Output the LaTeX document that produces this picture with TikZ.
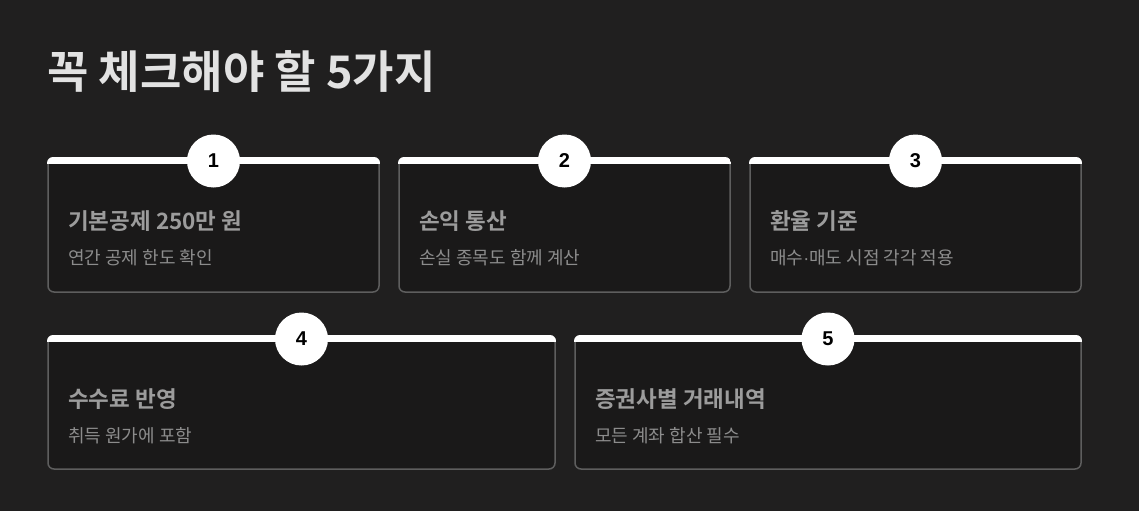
\documentclass[tikz,border=0pt]{standalone}
\usepackage{fontspec}
\setmainfont{Noto Sans CJK KR}[BoldFont={* Bold}]
\newfontfamily\numfont{Liberation Sans}
\definecolor{bg}{HTML}{201F1F}
\definecolor{cardfill}{HTML}{1A1919}
\definecolor{cardline}{HTML}{5E5E5E}
\definecolor{titlecol}{HTML}{E2E2E2}
\definecolor{headcol}{HTML}{9C9C9C}
\definecolor{subcol}{HTML}{8C8C8C}
\tikzset{
  card/.style={draw=cardline, line width=1.5pt, fill=cardfill, rounded corners=6pt},
  numcirc/.style={circle, fill=white, minimum size=53pt, inner sep=0pt, font=\fontsize{20}{22}\numfont\bfseries, text=black},
  head/.style={anchor=west, text=headcol, font=\fontsize{22.5}{26}\selectfont\bfseries, inner sep=0pt},
  sub/.style={anchor=west, text=subcol, font=\fontsize{18}{21}\selectfont, inner sep=0pt},
}
\begin{document}
\begin{tikzpicture}[x=1pt,y=-1pt]
\fill[bg] (0,0) rectangle (1139,511);
\useasboundingbox (0,0) rectangle (1139,511);
\node[anchor=base west, inner sep=0pt, text=titlecol, font=\fontsize{45}{52}\selectfont\bfseries] (title) at (47,88) {꼭 체크해야 할 5가지};
\foreach \i/\xa/\xb/\ya/\yb/\hd/\sb in {
  1/48/379/158/292/기본공제 250만 원/연간 공제 한도 확인,
  2/399/730/158/292/손익 통산/손실 종목도 함께 계산,
  3/750/1081/158/292/환율 기준/매수{\numfont ·}매도 시점 각각 적용,
  4/48/555/336/469/수수료 반영/취득 원가에 포함,
  5/575/1081/336/469/증권사별 거래내역/모든 계좌 합산 필수}{
  \draw[card] (\xa,\ya) rectangle (\xb,\yb);
  \begin{scope}
    \clip[rounded corners=6pt] (\xa-1,\ya-1) rectangle (\xb+1,\yb);
    \fill[white] (\xa-1,\ya-1) rectangle (\xb+1,\ya+6);
  \end{scope}
  \node[numcirc] (c\i) at ({(\xa+\xb)/2},{\ya+3}) {\i};
  \node[head] (h\i) at (\xa+20,{\ya+63}) {\hd};
  \node[sub] (s\i) at (\xa+20,{\ya+100}) {\sb};
}
\end{tikzpicture}
\end{document}
